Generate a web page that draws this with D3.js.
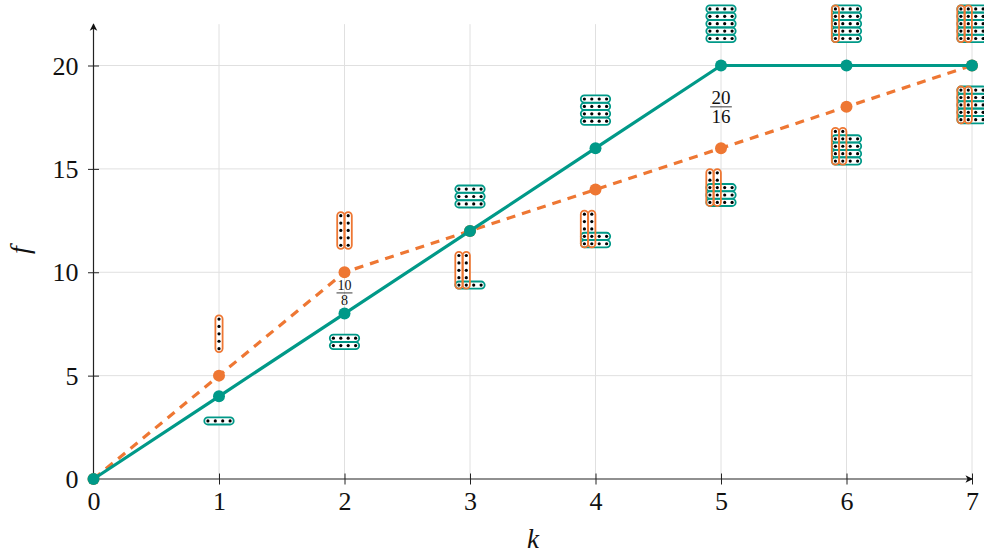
<!DOCTYPE html>
<html>
<head>
<meta charset="utf-8">
<script src="https://d3js.org/d3.v7.min.js"></script>
<style>
body { margin: 0; background: #fff; overflow: hidden; }
text { font-family: "Liberation Serif", serif; fill: #111; }
</style>
</head>
<body>
<div id="chart"></div>
<script>
// chart values
var kValues = [0, 1, 2, 3, 4, 5, 6, 7]
var tealValues = [0, 4, 8, 12, 16, 20, 20, 20]
var orangeValues = [0, 5, 10, 12, 14, 16, 18, 20]
var xTicks = [0, 1, 2, 3, 4, 5, 6, 7]
var yTicks = [0, 5, 10, 15, 20]

// dot motifs next to each k: orange columns and teal rows
var upperCols = [0, 1, 2, 0, 0, 0, 1, 2]
var upperRows = [0, 0, 0, 3, 4, 5, 5, 5]
var lowerCols = [0, 0, 0, 2, 2, 2, 2, 2]
var lowerRows = [0, 1, 2, 1, 2, 3, 4, 5]

// fractions written on the chart
var fracK = [2, 5]
var fracY = [9, 18]
var fracTop = ["10", "20"]
var fracBottom = ["8", "16"]
var fracSize = [14, 19]

var teal = "#009988"
var orange = "#EE7733"

var svgWidth = 984
var svgHeight = 559
var x0 = 93.5, x1 = 972
var y0 = 479, y1 = 65.5

var svg = d3.select("#chart").append("svg")
    .attr("width", svgWidth)
    .attr("height", svgHeight)
    .style("display", "block")

var xScale = d3.scaleLinear().domain([0, 7]).range([x0, x1])
var yScale = d3.scaleLinear().domain([0, 20]).range([y0, y1])
var yTop = yScale(22)

// grid
svg.append("g").selectAll("line").data(xTicks.slice(1)).enter().append("line")
    .attr("x1", d => xScale(d)).attr("x2", d => xScale(d))
    .attr("y1", y0).attr("y2", yTop)
    .attr("stroke", "#e0e0e0").attr("stroke-width", 1)
svg.append("g").selectAll("line").data(yTicks.slice(1)).enter().append("line")
    .attr("x1", x0).attr("x2", x1)
    .attr("y1", d => yScale(d)).attr("y2", d => yScale(d))
    .attr("stroke", "#e0e0e0").attr("stroke-width", 1)

// axes
var bottomAxis = d3.axisBottom(xScale).tickValues(xTicks).tickFormat(d3.format("d")).tickSizeOuter(0)
var leftAxis = d3.axisLeft(yScale).tickValues(yTicks).tickFormat(d3.format("d")).tickSizeOuter(0)

var xAxisG = svg.append("g").attr("transform", `translate(0,${y0})`).call(bottomAxis)
var yAxisG = svg.append("g").attr("transform", `translate(${x0},0)`).call(leftAxis)

xAxisG.select(".domain").remove()
yAxisG.select(".domain").remove()
xAxisG.selectAll(".tick line").attr("y1", -5.5).attr("y2", 5.5).attr("stroke", "#222")
yAxisG.selectAll(".tick line").attr("x1", -5.5).attr("x2", 5.5).attr("stroke", "#222")
xAxisG.selectAll(".tick text").attr("font-size", 26).attr("font-family", null).attr("y", 13).attr("dy", "0.71em")
yAxisG.selectAll(".tick text").attr("font-size", 26).attr("font-family", null).attr("x", -15).attr("dy", "0.33em")

svg.append("line").attr("x1", x0).attr("x2", x1).attr("y1", y0).attr("y2", y0).attr("stroke", "#222").attr("stroke-width", 1.2)
svg.append("line").attr("x1", x0).attr("x2", x0).attr("y1", y0).attr("y2", yTop).attr("stroke", "#222").attr("stroke-width", 1.2)
// arrow heads
var arrowHead = "M0,0L-3.8,7.5L0,5.5L3.8,7.5Z"
svg.append("path").attr("d", arrowHead)
    .attr("transform", `translate(${x0},${yTop - 1})`).attr("fill", "#111")
svg.append("path").attr("d", arrowHead)
    .attr("transform", `translate(${x1 + 1},${y0}) rotate(90)`).attr("fill", "#111")

svg.append("text").attr("x", 533).attr("y", 548).attr("text-anchor", "middle")
    .attr("font-size", 27).attr("font-style", "italic").text("k")
svg.append("text").attr("transform", "translate(29,250) rotate(-90)").attr("text-anchor", "middle")
    .attr("font-size", 28).attr("font-style", "italic").text("f")

// lines
var line = d3.line().x((d, i) => xScale(kValues[i])).y(d => yScale(d))

svg.append("path").attr("d", line(orangeValues)).attr("fill", "none")
    .attr("stroke", orange).attr("stroke-width", 3.2).attr("stroke-dasharray", "9 7")
svg.selectAll(".ptO").data(orangeValues).enter().append("circle").attr("class", "ptO")
    .attr("cx", (d, i) => xScale(kValues[i])).attr("cy", d => yScale(d))
    .attr("r", 6).attr("fill", orange)
svg.append("path").attr("d", line(tealValues)).attr("fill", "none")
    .attr("stroke", teal).attr("stroke-width", 3.2)
svg.selectAll(".ptT").data(tealValues).enter().append("circle").attr("class", "ptT")
    .attr("cx", (d, i) => xScale(kValues[i])).attr("cy", d => yScale(d))
    .attr("r", 6).attr("fill", teal)

// dot motifs
var step = 7.4
var capR = 3.6

function drawMotif(g, cx, top, cols, rows) {
    var nCols = rows > 0 ? 4 : cols
    var nRows = cols > 0 ? 5 : rows
    var left = cx - (nCols - 1) * step / 2
    var firstRow = nRows - rows

    function capsules(data, attrs, fill, stroke) {
        g.selectAll(null).data(data).enter().append("rect")
            .attr("x", attrs.x).attr("y", attrs.y)
            .attr("width", attrs.w).attr("height", attrs.h)
            .attr("rx", capR).attr("ry", capR)
            .attr("fill", fill).attr("stroke", stroke).attr("stroke-width", 1.8)
    }
    var rowAttrs = {
        x: left - capR, y: d => top + (firstRow + d) * step - capR,
        w: (nCols - 1) * step + 2 * capR, h: 2 * capR
    }
    var colAttrs = {
        x: d => left + d * step - capR, y: top - capR,
        w: 2 * capR, h: (nRows - 1) * step + 2 * capR
    }
    capsules(d3.range(rows), rowAttrs, "#fff", "none")
    capsules(d3.range(cols), colAttrs, "#fff", "none")
    capsules(d3.range(rows), rowAttrs, "none", teal)
    capsules(d3.range(cols), colAttrs, "none", orange)

    // only the cells covered by a capsule carry a dot
    var dots = []
    d3.range(nRows).forEach(r => d3.range(nCols).forEach(c => {
        if (c < cols || r >= firstRow) dots.push([c, r])
    }))
    g.selectAll(null).data(dots).enter().append("circle")
        .attr("cx", d => left + d[0] * step)
        .attr("cy", d => top + d[1] * step)
        .attr("r", 1.6).attr("fill", "#000")
}

var motifG = svg.append("g")
kValues.forEach(function(k, i) {
    var cx = xScale(k)
    var high = Math.min(yScale(tealValues[i]), yScale(orangeValues[i]))
    var low = Math.max(yScale(tealValues[i]), yScale(orangeValues[i]))
    var nRowsUp = upperCols[i] > 0 ? 5 : upperRows[i]
    if (nRowsUp > 0) drawMotif(motifG, cx, high - 27 - (nRowsUp - 1) * step, upperCols[i], upperRows[i])
    if (lowerRows[i] > 0 || lowerCols[i] > 0) drawMotif(motifG, cx, low + 24.6, lowerCols[i], lowerRows[i])
})

// fractions
fracK.forEach(function(k, i) {
    var cx = xScale(k)
    var cy = yScale(fracY[i])
    var size = fracSize[i]
    var halfW = size * 0.57
    svg.append("line").attr("x1", cx - halfW).attr("x2", cx + halfW)
        .attr("y1", cy).attr("y2", cy).attr("stroke", "#222").attr("stroke-width", 0.9)
    svg.append("text").attr("x", cx).attr("y", cy - 2.5).attr("text-anchor", "middle")
        .attr("font-size", size).text(fracTop[i])
    svg.append("text").attr("x", cx).attr("y", cy + size * 0.86).attr("text-anchor", "middle")
        .attr("font-size", size).text(fracBottom[i])
})
</script>
</body>
</html>
